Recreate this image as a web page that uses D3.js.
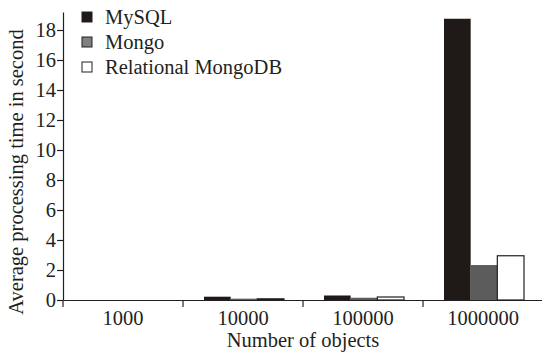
<!DOCTYPE html>
<html>
<head>
<meta charset="utf-8">
<script src="https://cdn.jsdelivr.net/npm/d3@7"></script>
<style>
  body { margin: 0; background: #fff; }
  text { font-family: "Liberation Serif", "Times New Roman", serif; fill: #231f20; }
</style>
</head>
<body>
<div id="chart"></div>
<script>
const categories = ['1000', '10000', '100000', '1000000'];
const seriesNames = ['MySQL', 'Mongo', 'Relational MongoDB'];
const mysql = [0, 0.22, 0.3, 18.75];
const mongo = [0, 0.09, 0.15, 2.33];
const relational = [0, 0.08, 0.2, 2.95];
const yTicks = [0, 2, 4, 6, 8, 10, 12, 14, 16, 18];

const colors = ['#1f1a17', '#5c5c5c', '#ffffff'];
const legendColors = ['#1f1a17', '#808080', '#ffffff'];

const width = 542, height = 354;
const margin = { top: 12, right: 0, bottom: 54, left: 63 };
const fontSize = '20.5px';

const svg = d3.select('#chart').append('svg')
  .attr('width', width)
  .attr('height', height);

const g = svg.append('g')
  .attr('transform', `translate(${margin.left},${margin.top})`);

const innerW = 480;
const innerH = height - margin.top - margin.bottom;

const y = d3.scaleLinear().domain([0, 19.2]).range([innerH, 0]);
const x = d3.scaleBand().domain(categories).range([0, innerW]).paddingInner(0).paddingOuter(0);
const xs = d3.scaleBand().domain(seriesNames).range([21, 101]).padding(0);

const rows = categories.map((c, i) => ({ cat: c, vals: [mysql[i], mongo[i], relational[i]] }));

// bars
g.selectAll('g.grp')
  .data(rows)
  .enter()
  .append('g')
  .attr('class', 'grp')
  .attr('transform', d => `translate(${x(d.cat)},0)`)
  .selectAll('rect')
  .data(d => d.vals.map((v, k) => ({ name: seriesNames[k], v, k })).filter(d => d.v > 0))
  .enter()
  .append('rect')
  .attr('x', d => xs(d.name))
  .attr('y', d => y(d.v))
  .attr('width', xs.bandwidth())
  .attr('height', d => y(0) - y(d.v))
  .attr('fill', d => colors[d.k])
  .attr('stroke', d => d.k === 2 ? '#231f20' : 'none')
  .attr('stroke-width', 1.2);

// y axis
const yAxis = g.append('g')
  .call(d3.axisLeft(y).tickValues(yTicks).tickSize(6).tickSizeOuter(0));
yAxis.select('.domain').attr('stroke', '#231f20').attr('stroke-width', 1.2);
yAxis.selectAll('line').attr('stroke', '#231f20').attr('stroke-width', 1.2);
yAxis.selectAll('text')
  .attr('x', -7)
  .style('font-size', fontSize)
  .style('fill', '#231f20');

// x axis
const xAxis = g.append('g')
  .attr('transform', `translate(0,${innerH})`)
  .call(d3.axisBottom(x).tickSize(0).tickSizeOuter(0));
xAxis.select('.domain').attr('stroke', '#231f20').attr('stroke-width', 1.2);
xAxis.selectAll('text')
  .attr('dy', '0')
  .attr('y', 25)
  .style('font-size', fontSize)
  .style('fill', '#231f20');

// separators between categories
g.selectAll('line.sep')
  .data(categories)
  .enter()
  .append('line')
  .attr('class', 'sep')
  .attr('x1', d => x(d))
  .attr('x2', d => x(d))
  .attr('y1', innerH)
  .attr('y2', innerH + 7)
  .attr('stroke', '#231f20')
  .attr('stroke-width', 1.2);

// axis titles
svg.append('text')
  .attr('x', margin.left + innerW / 2)
  .attr('y', 347)
  .attr('text-anchor', 'middle')
  .style('font-size', fontSize)
  .text('Number of objects');

svg.append('text')
  .attr('transform', `translate(23,${margin.top + innerH / 2 + 16}) rotate(-90)`)
  .attr('text-anchor', 'middle')
  .style('font-size', fontSize)
  .text('Average processing time in second');

// legend
const legend = svg.append('g').attr('transform', 'translate(82,12)');
const item = legend.selectAll('g')
  .data(seriesNames)
  .enter()
  .append('g')
  .attr('transform', (d, i) => `translate(0,${i * 25})`);
item.append('rect')
  .attr('width', 10)
  .attr('height', 10)
  .attr('fill', (d, i) => legendColors[i])
  .attr('stroke', '#231f20')
  .attr('stroke-width', 1);
item.append('text')
  .attr('x', 23)
  .attr('y', 12)
  .style('font-size', fontSize)
  .text(d => d);
</script>
</body>
</html>
